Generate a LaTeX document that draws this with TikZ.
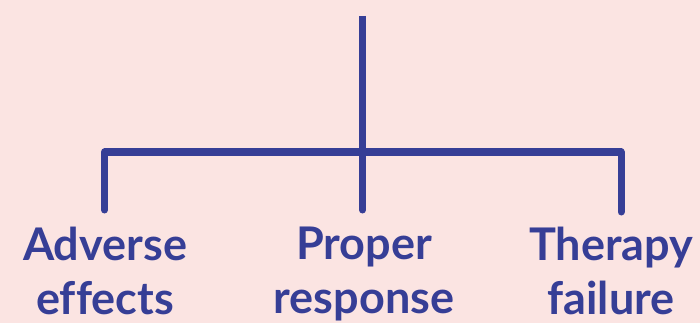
\documentclass[tikz,border=0pt]{standalone}
\usepackage{fontspec}
\setmainfont[Ligatures=NoCommon]{Lato}
\definecolor{bgpink}{HTML}{FBE4E2}
\definecolor{navy}{HTML}{363E96}
\begin{document}
\begin{tikzpicture}[x=1pt,y=-1pt,
  tree/.style={draw=navy,line width=7pt,line join=round},
  lbl/.style={text=navy,font=\fontsize{45}{54}\selectfont\bfseries,align=center,inner sep=0pt,anchor=north}]
\fill[bgpink] (0,0) rectangle (700,323);
\useasboundingbox (0,0) rectangle (700,323);
\coordinate (top) at (362.5,16);
\coordinate (mid) at (362.5,152);
\coordinate (l) at (104.5,152);
\coordinate (r) at (621,152);
\coordinate (lb) at (104.5,210);
\coordinate (mb) at (362.5,210);
\coordinate (rb) at (621,212);
\draw[tree] (top) -- (mid);
\draw[tree,line cap=round] (lb) -- (l) -- (r) -- (rb);
\draw[tree,line cap=round] (mid) -- (mb);
\node[lbl] (a) at (105,227) {Adverse\\effects};
\node[lbl] (b) at (364,227) {Proper\\response};
\node[lbl] (c) at (611,227) {Therapy\\failure};
\end{tikzpicture}
\end{document}
